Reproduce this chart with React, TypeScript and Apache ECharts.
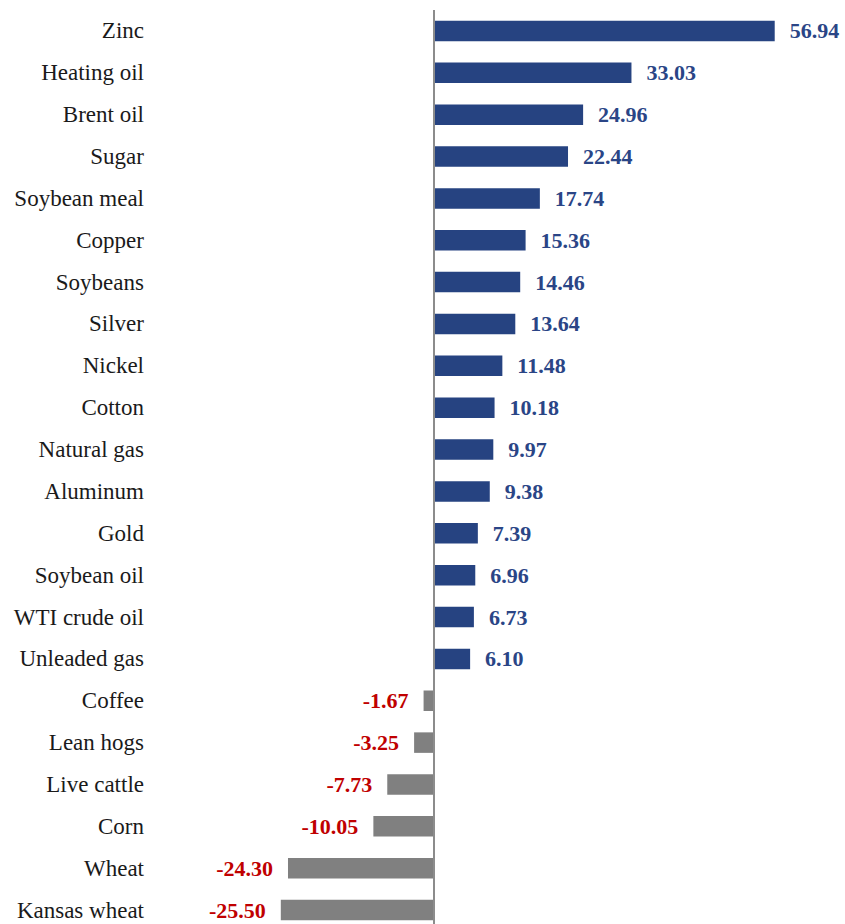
import React, { useEffect, useRef } from "react";
import * as echarts from "echarts";

const categories = [
  "Zinc", "Heating oil", "Brent oil", "Sugar", "Soybean meal", "Copper", "Soybeans",
  "Silver", "Nickel", "Cotton", "Natural gas", "Aluminum", "Gold", "Soybean oil",
  "WTI crude oil", "Unleaded gas", "Coffee", "Lean hogs", "Live cattle", "Corn",
  "Wheat", "Kansas wheat",
];
const values = [
  56.94, 33.03, 24.96, 22.44, 17.74, 15.36, 14.46, 13.64, 11.48, 10.18, 9.97, 9.38,
  7.39, 6.96, 6.73, 6.1, -1.67, -3.25, -7.73, -10.05, -24.3, -25.5,
];

const POS_BAR = "#264381";
const NEG_BAR = "#808080";
const POS_LABEL = "#2a4586";
const NEG_LABEL = "#c00000";
const FONT = "'Liberation Serif', 'DejaVu Serif', serif";

export default function App() {
  const ref = useRef<HTMLDivElement>(null);
  useEffect(() => {
    if (!ref.current) return;
    const chart = echarts.init(ref.current, undefined, { renderer: "svg" });
    chart.setOption({
      animation: false,
      grid: { left: 146, right: 22, top: 10, bottom: 9, containLabel: false },
      xAxis: {
        type: "value",
        min: -48,
        max: 65,
        show: false,
      },
      yAxis: {
        type: "category",
        data: categories,
        inverse: true,
        axisLine: { show: false },
        axisTick: { show: false },
        splitLine: { show: false },
        axisLabel: {
          margin: 2,
          color: "#1a1a1a",
          fontFamily: FONT,
          fontSize: 23,
        },
      },
      series: [
        {
          type: "bar",
          barWidth: "49%",
          data: values.map((v) => ({
            value: v,
            itemStyle: { color: v >= 0 ? POS_BAR : NEG_BAR },
            label: {
              show: true,
              position: v >= 0 ? "right" : "left",
              distance: 15,
              formatter: v.toFixed(2),
              color: v >= 0 ? POS_LABEL : NEG_LABEL,
              fontFamily: FONT,
              fontWeight: "bold",
              fontSize: 22,
            },
          })),
          markLine: {
            silent: true,
            symbol: "none",
            label: { show: false },
            lineStyle: { color: "#8c8c8c", width: 2, type: "solid" },
            data: [{ xAxis: 0 }],
          },
        },
      ],
    });
    return () => chart.dispose();
  }, []);
  return (
    <div style={{ width: 845, height: 924, position: "absolute", left: 0, top: 0, overflow: "hidden" }}>
      <div ref={ref} style={{ width: 845, height: 940 }} />
    </div>
  );
}
